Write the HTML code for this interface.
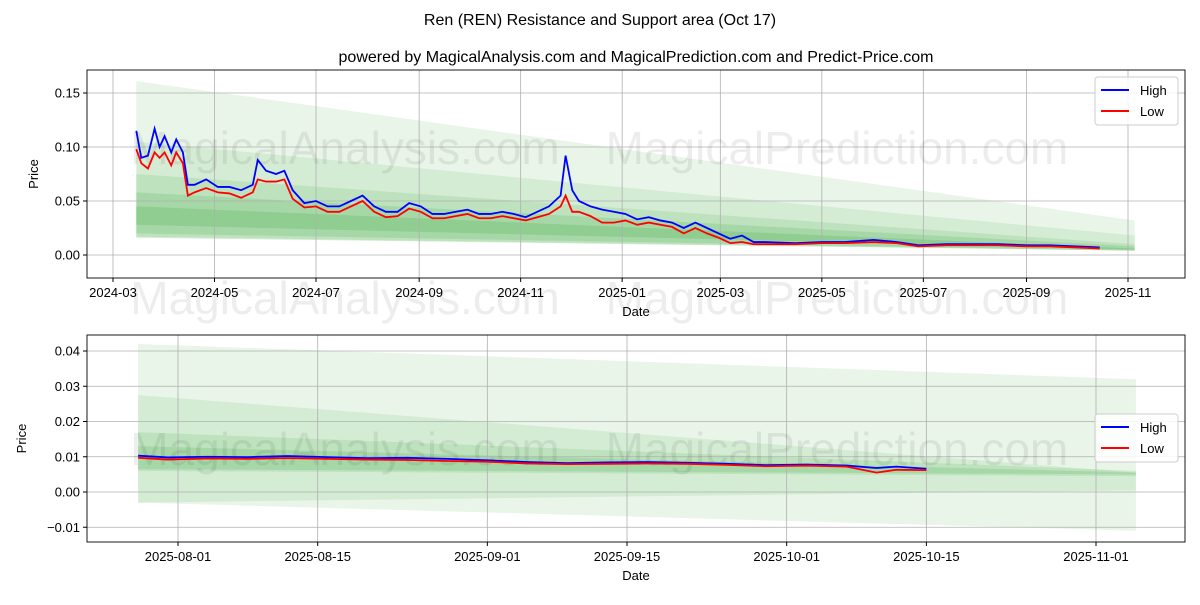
<!DOCTYPE html>
<html><head><meta charset="utf-8">
<style>
body{margin:0;background:#fff;font-family:"Liberation Sans",sans-serif;}
svg text{font-family:"Liberation Sans",sans-serif;}
</style></head>
<body>
<svg id="c" width="1200" height="600" xmlns="http://www.w3.org/2000/svg">
<rect width="1200" height="600" fill="#fff"/>
<text x="600" y="25" text-anchor="middle" font-size="16">Ren (REN) Resistance and Support area (Oct 17)</text>
<text x="636" y="62" text-anchor="middle" font-size="16">powered by MagicalAnalysis.com and MagicalPrediction.com and Predict-Price.com</text>
</svg>
<script>
// ---- data ----
const topDates=["2024-03-15","2024-03-18","2024-03-22","2024-03-26","2024-03-29","2024-04-01","2024-04-05","2024-04-08","2024-04-12","2024-04-15","2024-04-19","2024-04-26","2024-05-03","2024-05-10","2024-05-17","2024-05-24","2024-05-27","2024-06-01","2024-06-07","2024-06-12","2024-06-17","2024-06-24","2024-07-01","2024-07-08","2024-07-15","2024-07-22","2024-07-29","2024-08-05","2024-08-12","2024-08-19","2024-08-26","2024-09-02","2024-09-09","2024-09-16","2024-09-23","2024-09-30","2024-10-07","2024-10-14","2024-10-21","2024-10-28","2024-11-04","2024-11-11","2024-11-18","2024-11-25","2024-11-28","2024-12-02","2024-12-06","2024-12-13","2024-12-20","2024-12-27","2025-01-03","2025-01-10","2025-01-17","2025-01-24","2025-01-31","2025-02-07","2025-02-14","2025-02-21","2025-02-28","2025-03-07","2025-03-14","2025-03-21","2025-03-28","2025-04-15","2025-05-01","2025-05-15","2025-06-01","2025-06-15","2025-06-28","2025-07-15","2025-08-01","2025-08-15","2025-09-01","2025-09-15","2025-10-01","2025-10-15"];
const topHigh=[0.115,0.09,0.092,0.117,0.100,0.110,0.095,0.107,0.095,0.065,0.065,0.070,0.063,0.063,0.060,0.065,0.088,0.078,0.075,0.078,0.060,0.048,0.050,0.045,0.045,0.050,0.055,0.045,0.040,0.040,0.048,0.045,0.038,0.038,0.040,0.042,0.038,0.038,0.040,0.038,0.035,0.040,0.045,0.055,0.092,0.060,0.050,0.045,0.042,0.040,0.038,0.033,0.035,0.032,0.030,0.025,0.030,0.025,0.020,0.015,0.018,0.012,0.012,0.011,0.012,0.012,0.014,0.012,0.009,0.010,0.010,0.010,0.009,0.009,0.008,0.007];
const topLow=[0.098,0.085,0.080,0.095,0.090,0.095,0.083,0.095,0.085,0.055,0.058,0.062,0.058,0.057,0.053,0.058,0.070,0.068,0.068,0.070,0.052,0.044,0.045,0.040,0.040,0.045,0.050,0.040,0.035,0.036,0.043,0.040,0.034,0.034,0.036,0.038,0.034,0.034,0.036,0.034,0.032,0.035,0.038,0.045,0.055,0.040,0.040,0.036,0.030,0.030,0.032,0.028,0.030,0.028,0.026,0.020,0.025,0.020,0.016,0.011,0.012,0.010,0.010,0.010,0.011,0.011,0.012,0.011,0.008,0.009,0.009,0.009,0.008,0.008,0.007,0.006];
const botDates=["2025-07-28","2025-07-31","2025-08-04","2025-08-08","2025-08-12","2025-08-16","2025-08-20","2025-08-24","2025-08-28","2025-09-01","2025-09-05","2025-09-09","2025-09-13","2025-09-17","2025-09-21","2025-09-25","2025-09-29","2025-10-03","2025-10-07","2025-10-10","2025-10-12","2025-10-15"];
const botHigh=[0.0103,0.0098,0.0100,0.0099,0.0102,0.0099,0.0096,0.0097,0.0094,0.0090,0.0085,0.0082,0.0084,0.0085,0.0083,0.0080,0.0076,0.0078,0.0075,0.0068,0.0072,0.0066];
const botLow=[0.0097,0.0092,0.0095,0.0094,0.0096,0.0094,0.0092,0.0091,0.0088,0.0086,0.0081,0.0079,0.0080,0.0081,0.0080,0.0077,0.0073,0.0075,0.0072,0.0055,0.0063,0.0062];
const topTicksY=[0,0.05,0.10,0.15], topTickLabelsY=["0.00","0.05","0.10","0.15"];
const topTicksX=["2024-03-01","2024-05-01","2024-07-01","2024-09-01","2024-11-01","2025-01-01","2025-03-01","2025-05-01","2025-07-01","2025-09-01","2025-11-01"];
const topTickLabelsX=["2024-03","2024-05","2024-07","2024-09","2024-11","2025-01","2025-03","2025-05","2025-07","2025-09","2025-11"];
const botTicksY=[-0.01,0,0.01,0.02,0.03,0.04], botTickLabelsY=["\u22120.01","0.00","0.01","0.02","0.03","0.04"];
const botTicksX=["2025-08-01","2025-08-15","2025-09-01","2025-09-15","2025-10-01","2025-10-15","2025-11-01"];
// bands: [upperStart, upperEnd, lowerStart, lowerEnd]
const topBands=[[0.161,0.032,0.016,0.004],[0.105,0.018,0.016,0.004],[0.075,0.010,0.017,0.004],[0.058,0.008,0.020,0.004],[0.045,0.006,0.028,0.005]];
const botBands=[[0.042,0.032,-0.003,-0.011],[0.0275,0.0055,-0.003,0.0005],[0.017,0.006,0.006,0.0045],[0.013,0.0055,0.0065,0.0050]];
const bandOpac=[0.13,0.13,0.17,0.2,0.25];

const NS="http://www.w3.org/2000/svg", svg=document.getElementById('c');
function el(t,a,p){const e=document.createElementNS(NS,t);for(const k in a)e.setAttribute(k,a[k]);(p||svg).appendChild(e);return e;}
const day=s=>Date.parse(s)/864e5;

function panel(o){
  const g=el('g',{});
  
  
  const d0=day(o.x0d),d1=day(o.x1d);
  const X=d=>o.x0p+(day(d)-d0)/(d1-d0)*(o.x1p-o.x0p);
  const Y=v=>o.y0p+(v-o.v0)/(o.v1-o.v0)*(o.y1p-o.y0p);
  o.bands.forEach((b,i)=>{
    const xa=X(o.bs),xb=X(o.be);
    const p=el('polygon',{points:`${xa},${Y(b[0])} ${xb},${Y(b[1])} ${xb},${Y(b[3])} ${xa},${Y(b[2])}`,fill:'#4caf50','fill-opacity':bandOpac[i]},g);
    
    
  });
  o.ty.forEach((v,i)=>{
    el('line',{x1:o.L,x2:o.R,y1:Y(v),y2:Y(v),stroke:'#b0b0b0','stroke-width':0.8},g);
    el('line',{x1:o.L-4,x2:o.L,y1:Y(v),y2:Y(v),stroke:'#000'},g);
    const t=el('text',{x:o.L-7,y:Y(v)+4.5,'text-anchor':'end','font-size':13},g);t.textContent=o.tyl[i];
    
    
  });
  o.tx.forEach((d,i)=>{
    const x=X(d);
    el('line',{x1:x,x2:x,y1:o.T,y2:o.B,stroke:'#b0b0b0','stroke-width':0.8},g);
    el('line',{x1:x,x2:x,y1:o.B,y2:o.B+4,stroke:'#000'},g);
    const t=el('text',{x:x,y:o.B+19,'text-anchor':'middle','font-size':13},g);t.textContent=o.txl[i];
    
    
  });
  [[345,o.wm1],[837,o.wm1],[345,o.wm2],[837,o.wm2]].forEach((w,i)=>{
    const t=el('text',{x:w[0],y:w[1],'text-anchor':'middle','font-size':46,fill:'#000','fill-opacity':0.07},g);
    t.textContent=i%2==0?'MagicalAnalysis.com':'MagicalPrediction.com';
    
    
  });
  [[o.hi,'#0000ff','high-line'],[o.lo,'#ff0000','low-line']].forEach(s=>{
    const p=el('polyline',{points:o.dates.map((d,i)=>X(d)+','+Y(s[0][i])).join(' '),fill:'none',stroke:s[1],'stroke-width':1.8},g);
    
    
  });
  el('rect',{x:o.L,y:o.T,width:o.R-o.L,height:o.B-o.T,fill:'none',stroke:'#000','stroke-width':0.9},g);
  const xt=el('text',{x:(o.L+o.R)/2,y:o.B+38,'text-anchor':'middle','font-size':13},g);xt.textContent='Date';
  
  const yc=(o.T+o.B)/2;
  const yt=el('text',{x:o.yx,y:yc,'text-anchor':'middle','font-size':13,transform:`rotate(-90 ${o.yx} ${yc})`},g);yt.textContent='Price';
  
  const lg=el('g',{},g);
  
  
  el('rect',{x:o.R-90,y:o.lgy,width:83,height:48,rx:3,fill:'#fff','fill-opacity':0.85,stroke:'#ccc'},lg);
  [['High','#0000ff'],['Low','#ff0000']].forEach((e,i)=>{
    const yy=o.lgy+13+i*21;
    el('line',{x1:o.R-84,x2:o.R-56,y1:yy,y2:yy,stroke:e[1],'stroke-width':2},lg);
    const t=el('text',{x:o.R-45,y:yy+5,'font-size':13},lg);t.textContent=e[0];
    
    
  });
}
panel({name:'top-panel',L:87,R:1185,T:70,B:278,x0d:'2024-03-01',x1d:'2025-11-01',x0p:113,x1p:1128,v0:0,v1:0.15,y0p:255,y1p:93,
  bands:topBands,bs:'2024-03-15',be:'2025-11-05',ty:topTicksY,tyl:topTickLabelsY,tx:topTicksX,txl:topTickLabelsX,
  dates:topDates,hi:topHigh,lo:topLow,yx:38,lgy:77,wm1:164,wm2:314});
panel({name:'bottom-panel',L:87,R:1185,T:335,B:542,x0d:'2025-08-01',x1d:'2025-11-01',x0p:178,x1p:1096,v0:0,v1:0.04,y0p:492,y1p:351,
  bands:botBands,bs:'2025-07-28',be:'2025-11-05',ty:botTicksY,tyl:botTickLabelsY,tx:botTicksX,txl:botTicksX,
  dates:botDates,hi:botHigh,lo:botLow,yx:26,lgy:414,wm1:465,wm2:-100});
</script>
</body></html>
